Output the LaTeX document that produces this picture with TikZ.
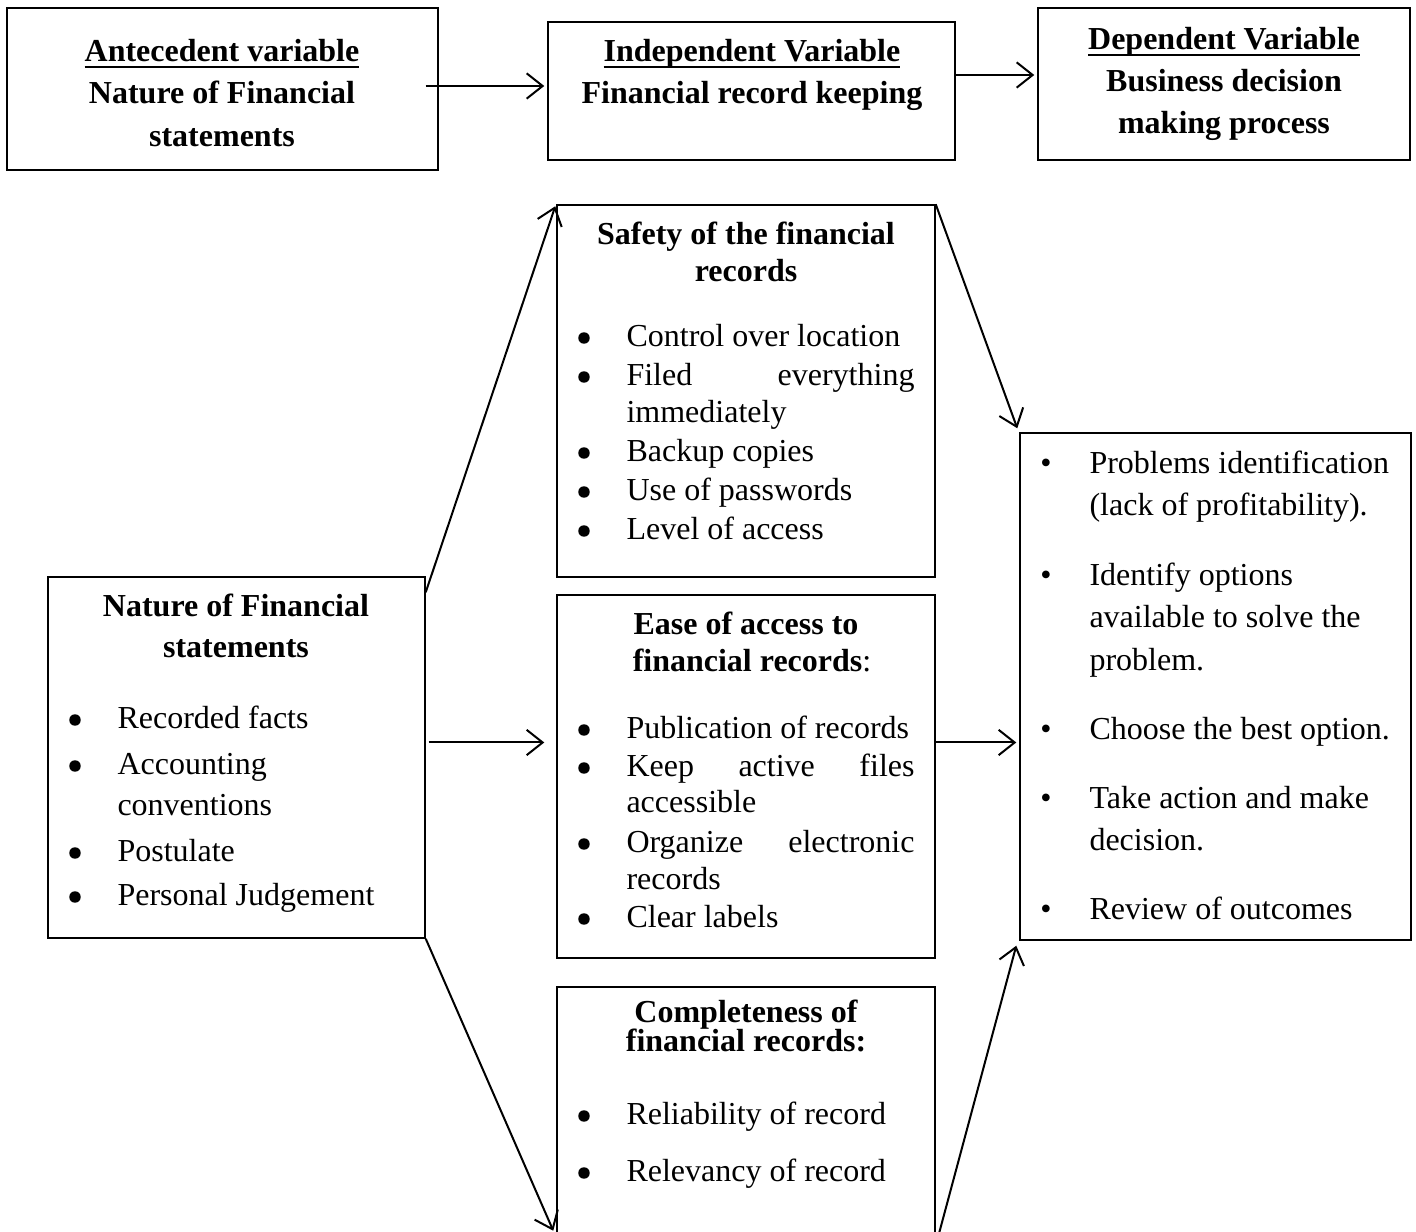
\documentclass[tikz,border=0pt]{standalone}
\usepackage{fontspec}
\setmainfont{Liberation Serif}
\usetikzlibrary{arrows.meta,calc,fit}
\newcommand\myul[1]{\setbox0\hbox{#1}\rlap{\rule[-2.4pt]{\wd0}{0.9pt}}\box0}
\begin{document}
\begin{tikzpicture}[x=0.375pt,y=-0.375pt,
  box/.style={draw,line width=0.55pt,inner sep=0pt},
  arr/.style={line width=0.75pt,-{Straight Barb[length=6pt,width=9.5pt]}},
  txt/.style={anchor=base,inner sep=0pt,font=\fontsize{12}{14}\selectfont},
  btxt/.style={anchor=base,inner sep=0pt,font=\fontsize{12}{14}\selectfont\bfseries},
  ltxt/.style={anchor=base west,inner sep=0pt,font=\fontsize{12}{14}\selectfont},
  bigbul/.style={circle,fill=black,draw=none,inner sep=0pt,minimum size=4.3pt},
  smbul/.style={anchor=base,inner sep=0pt,font=\fontsize{12}{14}\selectfont}]
\useasboundingbox (0,0) rectangle (1416,1232);
\clip (0,0) rectangle (1416,1232);

% ---------- top row ----------
\node[box,fit={(7,8)(438,170)}] (A) {};
\node[box,fit={(548,22)(955,160)}] (B) {};
\node[box,fit={(1038,8)(1410,160)}] (C) {};

\node[btxt] (a1) at (222,62) {\myul{Antecedent variable}};
\node[btxt] (a2) at (222,104) {Nature of Financial};
\node[btxt] (a3) at (222,147) {statements};

\node[btxt] (b1) at (752,62) {\myul{Independent Variable}};
\node[btxt] (b2) at (752,104) {Financial record keeping};

\node[btxt] (c1) at (1224,50) {\myul{Dependent Variable}};
\node[btxt] (c2) at (1224,92) {Business decision};
\node[btxt] (c3) at (1224,134) {making process};

% ---------- left box ----------
\node[box,fit={(48,577)(425,938)}] (L) {};
\node[btxt] (l1) at (236,617) {Nature of Financial};
\node[btxt] (l2) at (236,658) {statements};
\node[ltxt] (lt1) at (117,729) {Recorded facts};
\node[ltxt] (lt2) at (117,775) {Accounting};
\node[ltxt] (lt3) at (117,816) {conventions};
\node[ltxt] (lt4) at (117,862) {Postulate};
\node[ltxt] (lt5) at (117,906) {Personal Judgement};
\foreach \y [count=\i] in {729,775,862,906}
  {\node[bigbul] (lb\i) at (75,\y-9) {};}

% ---------- safety box ----------
\node[box,fit={(557,205)(935,577)}] (S) {};
\node[btxt] (s1) at (746,245) {Safety of the financial};
\node[btxt] (s2) at (746,282) {records};
\node[ltxt] (st1) at (626,347) {Control over location};
\node[ltxt] (st2) at (626,386) {\hbox to 108pt{Filed\hfill everything}};
\node[ltxt] (st3) at (626,423) {immediately};
\node[ltxt] (st4) at (626,462) {Backup copies};
\node[ltxt] (st5) at (626,501) {Use of passwords};
\node[ltxt] (st6) at (626,540) {Level of access};
\foreach \y [count=\i] in {347,386,462,501,540}
  {\node[bigbul] (sb\i) at (584,\y-9) {};}

% ---------- ease box ----------
\node[box,fit={(557,595)(935,958)}] (E) {};
\node[btxt] (e1) at (746,635) {Ease of access to};
\node[txt] (e2) at (752,672) {\textbf{financial records}:};
\node[ltxt] (et1) at (626,739) {Publication of records};
\node[ltxt] (et2) at (626,777) {\hbox to 108pt{Keep\hfill active\hfill files}};
\node[ltxt] (et3) at (626,813) {accessible};
\node[ltxt] (et4) at (626,853) {\hbox to 108pt{Organize\hfill electronic}};
\node[ltxt] (et5) at (626,890) {records};
\node[ltxt] (et6) at (626,928) {Clear labels};
\foreach \y [count=\i] in {739,777,853,928}
  {\node[bigbul] (eb\i) at (584,\y-9) {};}

% ---------- completeness box ----------
\node[box,fit={(557,987)(935,1245)}] (Cm) {};
\node[btxt] (m1) at (746,1023) {Completeness of};
\node[btxt] (m2) at (746,1052) {financial records:};
\node[ltxt] (mt1) at (626,1125) {Reliability of record};
\node[ltxt] (mt2) at (626,1182) {Relevancy of record};
\foreach \y [count=\i] in {1125,1182}
  {\node[bigbul] (mb\i) at (584,\y-9) {};}

% ---------- right box ----------
\node[box,fit={(1020,433)(1411,940)}] (R) {};
\node[ltxt] (r1) at (1089,474) {Problems identification};
\node[ltxt] (r2) at (1089,516) {(lack of profitability).};
\node[ltxt] (r3) at (1089,586) {Identify options};
\node[ltxt] (r4) at (1089,628) {available to solve the};
\node[ltxt] (r5) at (1089,671) {problem.};
\node[ltxt] (r6) at (1089,740) {Choose the best option.};
\node[ltxt] (r7) at (1089,809) {Take action and make};
\node[ltxt] (r8) at (1089,851) {decision.};
\node[ltxt] (r9) at (1089,920) {Review of outcomes};
\foreach \y [count=\i] in {474,586,740,809,920}
  {\node[smbul] (rb\i) at (1046,\y) {•};}

% ---------- connectors ----------
\draw[arr] ($(A.east)+(-13,-3)$) -- ($(A.east-|B.west)+(-3,-3)$);
\draw[arr] ($(B.east)+(0,-16)$) -- ($(B.east-|C.west)+(-3,-16)$);
\draw[arr] ($(L.north east)+(0,16)$) -- ($(S.north west)+(-1,2)$);
\draw[arr] (S.north east) -- ($(R.north west)+(-2,-4)$);
\draw[arr] ($(L.east)+(3,-15)$) -- ($(L.east-|E.west)+(-12,-15)$);
\draw[arr] ($(E.east)+(0,-34)$) -- ($(E.east-|R.west)+(-3,-34)$);
\draw[arr] (L.south east) -- ($(Cm.south west)+(-3,-15)$);
\draw[arr] (Cm.south east) -- ($(R.south west)+(-3,5)$);
\end{tikzpicture}
\end{document}
